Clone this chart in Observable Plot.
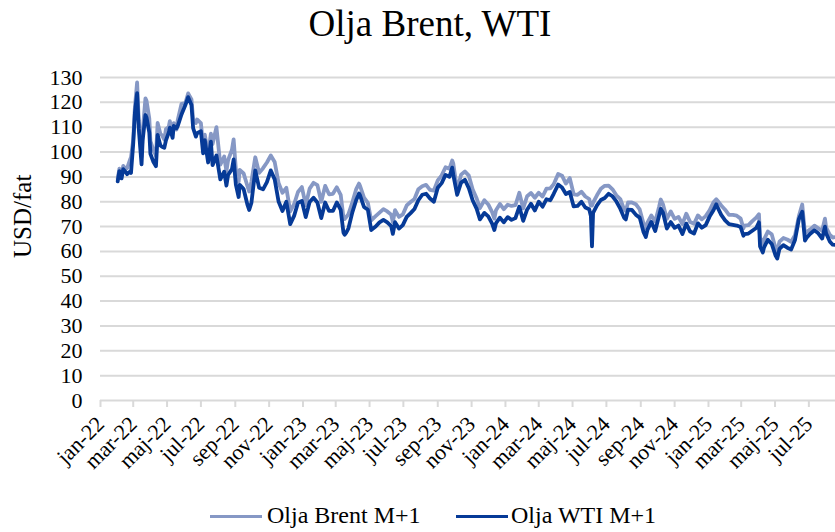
<!DOCTYPE html>
<html>
<head>
<meta charset="utf-8">
<script src="https://cdn.jsdelivr.net/npm/d3@7"></script>
<script src="https://cdn.jsdelivr.net/npm/@observablehq/plot@0.6"></script>
<style>
  html, body { margin: 0; padding: 0; background: #fff; }
  #wrap { position: relative; width: 835px; height: 532px; overflow: hidden; font-family: "Liberation Serif", serif; color: #000; }
  #title { position: absolute; left: 25px; top: 1px; width: 810px; text-align: center; font-family: "Liberation Serif", serif; font-size: 37px; line-height: 46px; }
  #chart { position: absolute; left: 0; top: 50px; }
  #chart svg, #chart svg text { font-family: "Liberation Serif", serif !important; }
  .sw { position: absolute; top: 515px; width: 52px; height: 3px; }
  .lt { position: absolute; top: 502px; font-family: "Liberation Serif", serif; font-size: 24px; line-height: 27px; white-space: nowrap; }
</style>
</head>
<body>
<div id="wrap">
  <div id="title">Olja Brent, WTI</div>
  <div id="chart"></div>
  <div id="legend"></div>
</div>
<script>
// ---- Data ----
const seriesNames = ["Olja Brent M+1", "Olja WTI M+1"];
const seriesColors = ["#8698c5", "#063a97"];
const yLabel = "USD/fat";
const yTicks = [0, 10, 20, 30, 40, 50, 60, 70, 80, 90, 100, 110, 120, 130];
const monthLabels = ["jan","feb","mar","apr","maj","jun","jul","aug","sep","okt","nov","dec"];
const xTickLabels = ["jan-22","mar-22","maj-22","jul-22","sep-22","nov-22","jan-23","mar-23","maj-23","jul-23","sep-23","nov-23","jan-24","mar-24","maj-24","jul-24","sep-24","nov-24","jan-25","mar-25","maj-25","jul-25"];
const xStart = "2022-01-01";
const xEnd = "2025-08-18";

const dates = [
  // 2022
  "2022-02-01","2022-02-04","2022-02-08","2022-02-11","2022-02-15","2022-02-18","2022-02-23","2022-02-25",
  "2022-03-01","2022-03-04","2022-03-08","2022-03-11","2022-03-16","2022-03-18","2022-03-23","2022-03-25","2022-03-30",
  "2022-04-01","2022-04-06","2022-04-11","2022-04-14","2022-04-19","2022-04-22","2022-04-26","2022-04-29",
  "2022-05-04","2022-05-06","2022-05-11","2022-05-13","2022-05-18","2022-05-20","2022-05-27",
  "2022-06-03","2022-06-08","2022-06-14","2022-06-17","2022-06-22","2022-06-24",
  "2022-07-01","2022-07-05","2022-07-08","2022-07-14","2022-07-19","2022-07-22","2022-07-29",
  "2022-08-05","2022-08-12","2022-08-16","2022-08-19","2022-08-26","2022-08-29",
  "2022-09-02","2022-09-07","2022-09-09","2022-09-16","2022-09-23","2022-09-26","2022-09-30",
  "2022-10-07","2022-10-14","2022-10-21","2022-10-28",
  "2022-11-04","2022-11-11","2022-11-18","2022-11-25",
  "2022-12-02","2022-12-09","2022-12-16","2022-12-23","2022-12-30",
  // 2023
  "2023-01-06","2023-01-13","2023-01-20","2023-01-27",
  "2023-02-03","2023-02-10","2023-02-17","2023-02-24",
  "2023-03-03","2023-03-10","2023-03-15","2023-03-17","2023-03-20","2023-03-24","2023-03-31",
  "2023-04-07","2023-04-12","2023-04-14","2023-04-21","2023-04-28",
  "2023-05-04","2023-05-12","2023-05-19","2023-05-26",
  "2023-06-02","2023-06-09","2023-06-12","2023-06-16","2023-06-23","2023-06-30",
  "2023-07-07","2023-07-14","2023-07-21","2023-07-28",
  "2023-08-04","2023-08-11","2023-08-18","2023-08-25",
  "2023-09-01","2023-09-08","2023-09-15","2023-09-22","2023-09-27","2023-09-29",
  "2023-10-06","2023-10-13","2023-10-20","2023-10-27",
  "2023-11-03","2023-11-10","2023-11-16","2023-11-24",
  "2023-12-01","2023-12-08","2023-12-12","2023-12-15","2023-12-22","2023-12-29",
  // 2024
  "2024-01-05","2024-01-12","2024-01-19","2024-01-26",
  "2024-02-02","2024-02-09","2024-02-16","2024-02-23",
  "2024-03-01","2024-03-08","2024-03-15","2024-03-22","2024-03-28",
  "2024-04-05","2024-04-12","2024-04-19","2024-04-26",
  "2024-05-03","2024-05-10","2024-05-17","2024-05-24","2024-05-31",
  "2024-06-03","2024-06-05","2024-06-07","2024-06-14","2024-06-21","2024-06-28",
  "2024-07-05","2024-07-12","2024-07-19","2024-07-26",
  "2024-08-02","2024-08-05","2024-08-09","2024-08-16","2024-08-23","2024-08-30",
  "2024-09-06","2024-09-10","2024-09-13","2024-09-20","2024-09-27",
  "2024-10-04","2024-10-07","2024-10-11","2024-10-18","2024-10-25",
  "2024-11-01","2024-11-08","2024-11-15","2024-11-22","2024-11-29",
  "2024-12-06","2024-12-13","2024-12-20","2024-12-27",
  // 2025
  "2025-01-03","2025-01-10","2025-01-15","2025-01-17","2025-01-24","2025-01-31",
  "2025-02-07","2025-02-14","2025-02-21","2025-02-28",
  "2025-03-05","2025-03-07","2025-03-14","2025-03-21","2025-03-28",
  "2025-04-02","2025-04-04","2025-04-09","2025-04-11","2025-04-18","2025-04-25",
  "2025-05-02","2025-05-05","2025-05-09","2025-05-16","2025-05-23","2025-05-30",
  "2025-06-06","2025-06-13","2025-06-19","2025-06-24","2025-06-27",
  "2025-07-03","2025-07-11","2025-07-18","2025-07-25","2025-07-30",
  "2025-08-01","2025-08-08","2025-08-13","2025-08-18"
];

const brent = [
  // 2022
  89.2,93.3,90.8,94.4,93.3,93.5,96.8,97.9,
  105,118.1,128,112.7,98,107.9,121.6,120.6,113.5,
  104.4,101.1,98.5,111.7,107.3,106.7,105,109.3,
  110.1,112.4,107.5,111.6,109.1,112.6,119.4,
  119.7,123.6,121.2,113.1,111.7,113.1,
  111.6,102.8,107,99.1,107.4,103.2,110,
  94.9,98.2,92.3,96.7,101,105.1,
  93,88,92.8,91.4,86.2,84.1,88,
  97.9,91.6,93.5,95.8,
  98.6,96,87.6,83.6,
  85.6,76.1,79,83.9,85.9,
  // 2023
  78.6,85.3,87.6,86.7,
  80,86.4,83,83.2,
  85.8,82.8,73.7,73,73.8,75,79.8,
  85.1,87.3,86.3,81.7,79.5,
  72.5,74.2,75.6,77,
  76.1,74.8,71.8,76.6,73.9,74.9,
  78.5,79.9,81.1,85,
  86.2,86.8,84.8,84.5,
  88.6,90.6,93.9,93.3,96.6,95.3,
  84.6,90.9,92.2,90.5,
  84.9,81.4,77.4,80.6,
  78.9,75.8,73.2,76.6,79.1,77,
  // 2024
  78.8,78.3,78.6,83.6,
  77.3,82.2,83.5,81.6,
  83.6,82.1,85.3,85.4,87,
  91.2,90.5,87.3,89.5,
  83,82.8,84,82.1,81.1,
  78.4,78.4,79.6,82.6,85.2,86.4,
  86.5,85,82.6,81.1,
  76.8,76.3,79.7,79.7,79,76.9,
  71.1,69.2,71.6,74.5,72,
  78,80.9,79,73.1,76.1,
  73.1,73.9,71,75.2,71.8,
  71.1,74.5,72.9,74.2,
  // 2025
  76.5,79.8,81,80.5,78.5,76.8,
  74.7,74.7,74.4,73.2,
  69.3,70.4,70.6,72.2,73.6,
  75,65.6,62.8,64.8,68,66.9,
  61.3,60.2,63.9,65.4,64.8,63.9,
  66.5,74.2,78.9,67.1,67.8,
  68.8,70.4,69.3,68.4,73.2,
  69.7,66.6,65.6,65.8
];

const wti = [
  // 2022
  88.2,92.3,89.4,93.1,92.1,91.1,92.1,91.6,
  103.4,115.7,123.7,109.3,95,104.7,114.9,113.9,107.8,
  99.3,96.2,94.3,106.9,102.6,102.1,101.7,104.7,
  107.8,109.8,105.7,110.5,109.6,110.3,115.1,
  118.9,122.1,118.9,109.6,106.2,107.6,
  108.4,99.5,104.8,95.8,104.2,94.7,98.6,
  89,92.1,86.5,90.8,93.1,97,
  86.9,81.9,86.8,85.1,78.7,76.7,79.5,
  92.6,85.6,85,87.9,
  92.6,89,80.1,76.3,
  80,71,74.3,79.6,80.3,
  // 2023
  73.8,79.9,81.6,79.7,
  73.4,79.7,76.3,76.3,
  79.7,76.7,67.6,66.7,67.6,69.3,75.7,
  80.7,83.3,82.5,77.9,76.8,
  68.6,70,71.7,72.7,
  71.7,70.2,67.1,71.8,69.2,70.6,
  73.9,75.4,77.1,80.6,
  82.8,83.2,81.3,80,
  85.6,87.5,90.8,90,93.7,90.8,
  82.8,87.7,88.8,85.5,
  80.5,77.2,72.9,75.5,
  74.1,71.2,68.6,71.4,73.6,71.7,
  // 2024
  73.8,72.7,73.4,78,
  72.3,76.8,79.2,76.5,
  80,78,81,80.6,83.2,
  86.9,85.7,83.1,83.9,
  78.1,78.3,80,77.7,77,
  74.2,62,75.5,78.5,80.7,81.5,
  83.2,82.2,80.1,77.2,
  73.5,72.9,76.8,76.7,74.8,73.6,
  67.7,65.8,68.7,71.9,68.2,
  74.4,77.1,75.6,69.2,71.8,
  69.5,70.4,67,71.2,68,
  67.2,71.3,69.5,70.6,
  // 2025
  74,76.6,79,77.9,74.7,72.5,
  71,70.7,70.4,69.8,
  66.3,67,67.2,68.3,69.4,
  71.7,62,59.6,61.5,64.7,63,
  58.3,57.1,61,62.5,61.5,60.8,
  64.6,73,76,64.4,65.5,
  67,68.5,67.3,65.2,70,
  67.3,63.9,62.7,62.6
];

// ---- Build ----
const n = Math.min(dates.length, brent.length, wti.length);
const rows = d3.range(n).map(i => ({date: new Date(dates[i] + "T00:00:00Z"), brent: brent[i], wti: wti[i]}));
const xTicks = xTickLabels.map((_, i) => new Date(Date.UTC(2022, i * 2, 1)));
const labelOf = new Map(xTicks.map((d, i) => [+d, xTickLabels[i]]));
const fmt = d => labelOf.get(+d) ?? (monthLabels[d.getUTCMonth()] + "-" + String(d.getUTCFullYear()).slice(2));

const chart = Plot.plot({
  width: 835,
  height: 435,
  marginLeft: 100,
  marginRight: 0,
  marginTop: 27,
  marginBottom: 85,
  style: {fontFamily: "Liberation Serif", fontSize: "22px", color: "#000", background: "#fff", overflow: "visible"},
  x: {type: "utc", domain: [new Date(xStart + "T00:00:00Z"), new Date(xEnd + "T00:00:00Z")]},
  y: {domain: [0, 130]},
  marks: [
    Plot.gridY(yTicks, {stroke: "#d9d9d9", strokeOpacity: 1, strokeWidth: 2}),
    Plot.axisY(yTicks, {tickSize: 0, tickPadding: 18, label: null, fontSize: 22, fill: "#000"}),
    Plot.axisX(xTicks, {tickSize: 7, stroke: "#d9d9d9", strokeWidth: 2, tickFormat: fmt, tickRotate: -45, tickPadding: 13, fontSize: 22, fill: "#000", label: null}),
    Plot.text([yLabel], {frameAnchor: "left", dx: -78, dy: 19, rotate: -90, fontSize: 25, fill: "#000"}),
    Plot.line(rows, {x: "date", y: "brent", stroke: seriesColors[0], strokeWidth: 3.8, strokeLinejoin: "round"}),
    Plot.line(rows, {x: "date", y: "wti", stroke: seriesColors[1], strokeWidth: 3.8, strokeLinejoin: "round"})
  ]
});
chart.setAttribute("font-family", "Liberation Serif");
document.getElementById("chart").appendChild(chart);

// ---- Legend ----
const legend = document.getElementById("legend");
const legendPos = [{sw: 210, tx: 267}, {sw: 456, tx: 511}];
seriesNames.forEach((name, i) => {
  const s = document.createElement("span");
  s.className = "sw";
  s.style.left = legendPos[i].sw + "px";
  s.style.background = seriesColors[i];
  legend.appendChild(s);
  const t = document.createElement("span");
  t.className = "lt";
  t.style.left = legendPos[i].tx + "px";
  t.style.fontFamily = "'Liberation Serif', serif";
  t.textContent = name;
  legend.appendChild(t);
});
</script>
</body>
</html>
